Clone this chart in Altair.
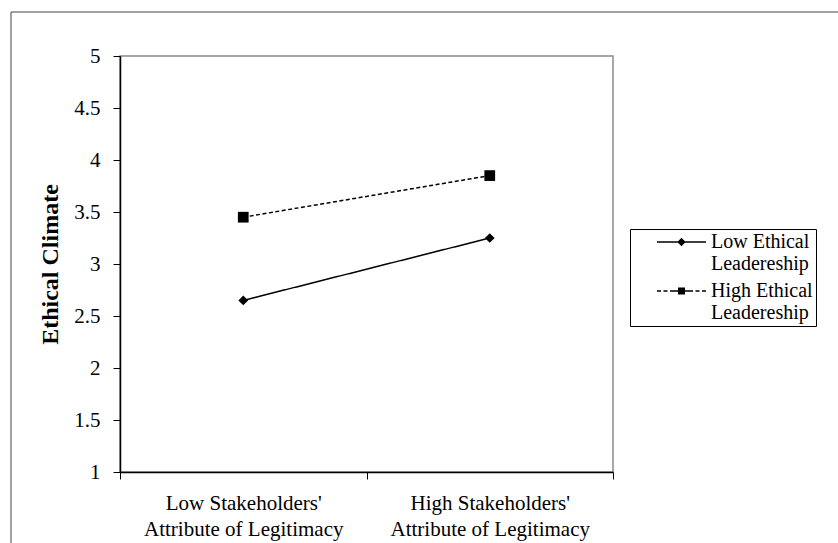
import altair as alt
import pandas as pd

# ---- data ----
categories = ["Low Stakeholders'\nAttribute of Legitimacy",
              "High Stakeholders'\nAttribute of Legitimacy"]
series = ["Low Ethical Leadereship", "High Ethical Leadereship"]
low_values = [2.65, 3.25]
high_values = [3.45, 3.85]
y_ticks = [1, 1.5, 2, 2.5, 3, 3.5, 4, 4.5, 5]

rows = []
for s, vals in zip(series, [low_values, high_values]):
    for c, v in zip(categories, vals):
        rows.append({"category": c, "series": s, "value": v})
df = pd.DataFrame(rows)

FONT = "Liberation Serif"
W, H = 493, 416

x_enc = alt.X(
    "category:N", sort=categories, title=None, bandPosition=0.5,
    scale=alt.Scale(type="band", paddingInner=0, paddingOuter=0),
    axis=alt.Axis(labelExpr="split(datum.label, '\\n')", labelAngle=0,
                  tickBand="extent", labelPadding=13, labelLineHeight=26,
                  labelBaseline="top", labelLimit=0),
)
y_enc = alt.Y(
    "value:Q", title="Ethical Climate",
    scale=alt.Scale(domain=[1, 5], nice=False, zero=False),
    axis=alt.Axis(values=y_ticks, format="~g", grid=False, labelPadding=13,
                  titleFont=FONT, titleFontSize=24, titleFontWeight="bold",
                  titleColor="black", titleX=-63, titleY=H / 2,
                  titleBaseline="alphabetic", titleAngle=270),
)


# ---- legend glyphs (line + marker), drawn as filled outlines ----
def rect(x0, x1, h):
    return f"M{x0},{-h}L{x1},{-h}L{x1},{h}L{x0},{h}Z"


LW = 0.075  # half line thickness (symbol units, 1 unit = 10 px)
LEG_LOW = rect(-2.45, 2.45, LW) + "M0,-0.42L0.42,0L0,0.42L-0.42,0Z"
LEG_HIGH = (rect(-2.45, -2.05, LW) + rect(-1.8, -1.4, LW) + rect(-1.15, -0.35, LW)
            + rect(0.35, 1.15, LW) + rect(1.4, 1.8, LW) + rect(2.05, 2.45, LW)
            + "M-0.35,-0.35L0.35,-0.35L0.35,0.35L-0.35,0.35Z")

legend = alt.Legend(
    title=None, orient="none", legendX=510, legendY=173,
    strokeColor="black", padding=3, symbolSize=400, symbolOffset=38.5,
    symbolStrokeWidth=0, symbolStrokeColor="black", symbolFillColor="black",
    symbolOpacity=1,
    labelFont=FONT, labelFontSize=20, labelColor="black", labelLimit=0,
    labelOffset=19.5, rowPadding=7,
    labelExpr="[replace(datum.label, ' Leadereship', '') + '   ', 'Leadereship   ']",
)

lines = alt.Chart(df).mark_line(color="black", strokeWidth=1.5).encode(
    x=x_enc, y=y_enc,
    strokeDash=alt.StrokeDash("series:N", sort=series,
                              scale=alt.Scale(domain=series, range=[[1, 0], [4, 2.5]]),
                              legend=None),
    detail="series:N",
)

points = alt.Chart(df).transform_calculate(marker="datum.series").mark_point(
    filled=True, color="black", opacity=1
).encode(
    x=x_enc, y=y_enc,
    shape=alt.Shape("marker:N", scale=alt.Scale(domain=series, range=["diamond", "square"]),
                    legend=None),
    size=alt.Size("marker:O", scale=alt.Scale(domain=series, range=[95, 115]), legend=None),
)

# invisible layer that only carries the legend
legend_src = alt.Chart(df).mark_point(
    filled=True, fill="black", opacity=0
).encode(
    x=x_enc, y=y_enc,
    shape=alt.Shape("series:N", sort=series,
                    scale=alt.Scale(domain=series, range=[LEG_LOW, LEG_HIGH]),
                    legend=legend),
)

frame_df = pd.DataFrame({"k": [0]})
frame_left = alt.Chart(frame_df).mark_rule(color="#444444", strokeWidth=1).encode(
    x=alt.value(-109), x2=alt.value(-109), y=alt.value(-44), y2=alt.value(500))
frame_top = alt.Chart(frame_df).mark_rule(color="#444444", strokeWidth=1).encode(
    x=alt.value(-109), x2=alt.value(730), y=alt.value(-44), y2=alt.value(-44))

chart = alt.layer(frame_left, frame_top, lines, points, legend_src).resolve_scale(
    shape="independent"
).properties(
    width=W, height=H,
    padding={"left": 120, "top": 56, "right": 225, "bottom": 71},
    autosize=alt.AutoSizeParams(type="none"),
).configure_view(
    stroke="#8a8a8a", strokeWidth=1.5
).configure_axis(
    domainColor="black", domainWidth=1.5, tickColor="black", tickWidth=1,
    tickSize=7, labelFont=FONT, labelFontSize=21, labelColor="black",
)

chart.save("out.html", embed_options={"renderer": "svg", "actions": False})
